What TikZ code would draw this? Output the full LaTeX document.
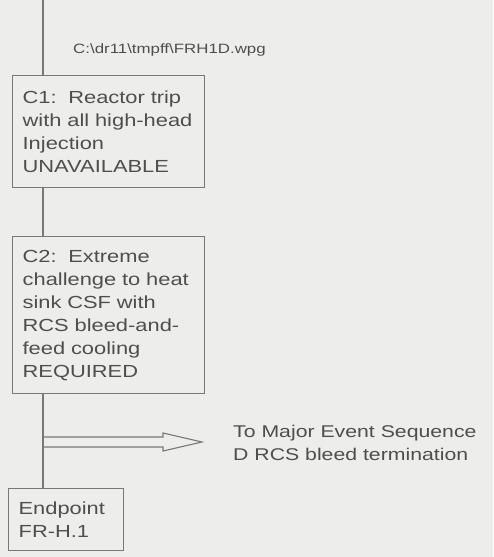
\documentclass[tikz,border=0pt]{standalone}
\usepackage{fontspec}
\setmainfont{Liberation Sans}[FakeStretch=1.25]
\usetikzlibrary{calc}
\definecolor{bg}{RGB}{237,237,235}
\definecolor{ink}{RGB}{78,78,78}
\definecolor{rule}{RGB}{120,120,120}
\tikzset{
  stepbox/.style={draw=rule, line width=1.3pt, anchor=north west, align=left,
    inner xsep=10pt, inner ysep=0pt, text=ink,
    font=\fontsize{17.5}{23}\selectfont},
  trunk/.style={draw=rule, line width=1.3pt},
  note/.style={text=ink, anchor=base west, inner sep=0pt, align=left}
}
\begin{document}
\begin{tikzpicture}[x=1pt,y=-1pt]
\useasboundingbox (0,0) rectangle (493,557);
\fill[bg] (0,0) rectangle (493,557);

\coordinate (top) at (43,0);

\node[note, font=\fontsize{13.5}{16}\selectfont] (path) at (73,53)
  {C:\textbackslash dr11\textbackslash tmpff\textbackslash FRH1D.wpg};

\node[stepbox, minimum width=192pt, minimum height=112pt, text width=172pt] (c1) at (12,75)
  {C1:\ \ Reactor trip\\with all high-head\\Injection\\UNAVAILABLE};

\node[stepbox, minimum width=192pt, minimum height=157pt, text width=172pt] (c2) at (12,236)
  {C2:\ \ Extreme\\challenge to heat\\sink CSF with\\RCS bleed-and-\\feed cooling\\REQUIRED};

\node[stepbox, minimum width=115pt, minimum height=62pt, text width=95pt] (ep) at (8,488)
  {Endpoint\\FR-H.1};

\draw[trunk] (top) -- (top |- c1.north);
\draw[trunk] (top |- c1.south) -- (top |- c2.north);
\draw[trunk] (top |- c2.south) -- (top |- ep.north);

\coordinate (abase) at (43,442);
\coordinate (atip) at (202,442);
\draw[draw=rule, line width=1.1pt, line join=miter]
  ($(abase)+(0,-5)$) -- ($(atip)+(-39,-5)$) -- ($(atip)+(-39,-9)$) -- (atip)
  -- ($(atip)+(-39,9)$) -- ($(atip)+(-39,5)$) -- ($(abase)+(0,5)$);

\node[note, font=\fontsize{17}{23}\selectfont] (dest) at (233,460)
  {To Major Event Sequence\\D RCS bleed termination};
\end{tikzpicture}
\end{document}
